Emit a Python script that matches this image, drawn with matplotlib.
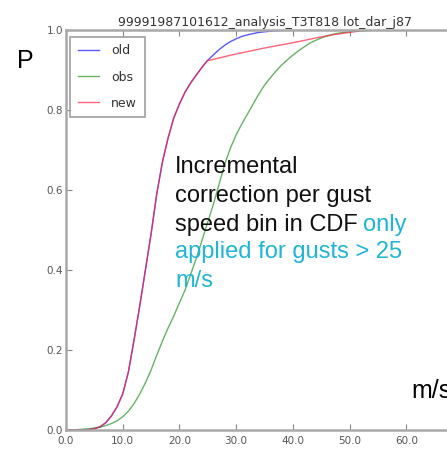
import matplotlib
matplotlib.use("Agg")
import matplotlib.pyplot as plt

old_speed = [0, 4, 5, 6, 7, 8, 9, 10, 11, 12, 13, 14, 15, 16, 17, 18, 19, 20,
             21, 22, 23, 24, 24.9, 26, 27, 28, 29, 30, 31, 32, 34, 36, 38, 40]
old_p = [0, 0.001, 0.003, 0.008, 0.018, 0.035, 0.058, 0.09, 0.145, 0.225, 0.31,
         0.40, 0.49, 0.59, 0.67, 0.73, 0.78, 0.815, 0.845, 0.868, 0.888, 0.907,
         0.923, 0.938, 0.951, 0.962, 0.971, 0.978, 0.984, 0.988, 0.994, 0.997,
         0.999, 1.0]

obs_speed = [0, 2, 4, 5, 6, 7, 8, 9, 10, 11, 12, 13, 14, 15, 16, 17, 18, 19, 20,
             21, 22, 23, 24, 25, 26, 27, 28, 29, 30, 31, 32, 33, 34, 35, 36, 37,
             38, 39, 40, 41, 42, 43, 44, 45, 46, 47, 48, 50, 52, 55, 59]
obs_p = [0, 0.001, 0.003, 0.005, 0.007, 0.011, 0.016, 0.023, 0.033, 0.047, 0.066,
         0.09, 0.118, 0.15, 0.187, 0.222, 0.255, 0.285, 0.318, 0.35, 0.39, 0.43,
         0.475, 0.52, 0.565, 0.615, 0.665, 0.705, 0.738, 0.765, 0.79, 0.815, 0.84,
         0.862, 0.88, 0.897, 0.912, 0.925, 0.937, 0.948, 0.958, 0.967, 0.974, 0.98,
         0.985, 0.989, 0.992, 0.996, 0.998, 0.9995, 1.0]

# "new" follows "old" up to 25 m/s, then the corrected part
new_speed = old_speed[:23] + [27, 29, 32, 35, 38, 41, 44, 47, 50, 52, 54]
new_p = old_p[:23] + [0.93, 0.937, 0.946, 0.955, 0.963, 0.971, 0.98, 0.988,
                      0.994, 0.998, 1.0]

title = "99991987101612_analysis_T3T818 lot_dar_j87"
xticks = [0, 10, 20, 30, 40, 50, 60]
yticks = [0.0, 0.2, 0.4, 0.6, 0.8, 1.0]

W, H = 447, 449
fig = plt.figure(figsize=(W / 100, H / 100), dpi=100)
# axes runs off the right side of the picture, like the cropped original
ax = fig.add_axes([66 / W, 19 / H, 397 / W, 400 / H])

ax.plot(old_speed, old_p, color="b", alpha=0.65, lw=1.0, label="old")
ax.plot(obs_speed, obs_p, color="g", alpha=0.6, lw=1.0, label="obs")
ax.plot(new_speed, new_p, color="#ff2040", alpha=0.7, lw=1.0, label="new")

ax.set_xlim(0, 70)
ax.set_ylim(0, 1)
ax.set_xticks(xticks)
ax.set_yticks(yticks)
ax.set_xticklabels(["%.1f" % t for t in xticks])
ax.set_yticklabels(["%.1f" % t for t in yticks])
ax.tick_params(direction="in", top=True, right=True, labelsize=7.5,
               labelcolor="#555555", color="#888888", length=4, pad=2)
ax.tick_params(axis="x", pad=4)
for s in ax.spines.values():
    s.set_color("#a8a8a8")
    s.set_linewidth(1.8)

ax.set_title(title, fontsize=9, color="#333333", pad=3)

leg = ax.legend(loc="upper left", bbox_to_anchor=(4 / 397, 1 - 7 / 400),
                borderaxespad=0, fontsize=9, labelspacing=1.05, handlelength=1.7,
                handletextpad=1.0, borderpad=0.6, fancybox=False)
leg.get_frame().set_edgecolor("#888888")
leg.get_frame().set_linewidth(1.2)
for t in leg.get_texts():
    t.set_color("#333333")

fig.text(17 / W, 1 - 68 / H, "P", fontsize=18, family="Liberation Sans", va="baseline")
fig.text(411 / W, 1 - 398 / H, "m/s", fontsize=18, family="Liberation Sans", va="baseline")

cyan = "#1fb5d6"
tx = 175 / W
lines = [("Incremental", 173), ("correction per gust", 202)]
for s, yb in lines:
    fig.text(tx, 1 - yb / H, s, fontsize=17, family="Liberation Sans", color="#111111",
             va="baseline")
t3 = fig.text(tx, 1 - 231 / H, "speed bin in CDF", fontsize=17, family="Liberation Sans",
              color="#111111", va="baseline")
ax.annotate("only", xy=(1, 0), xycoords=t3, xytext=(5, 0), textcoords="offset pixels",
            fontsize=17, family="Liberation Sans", color=cyan, va="bottom",
            annotation_clip=False)
fig.text(tx, 1 - 258 / H, "applied for gusts > 25", fontsize=17, family="Liberation Sans",
         color=cyan, va="baseline")
fig.text(tx, 1 - 287 / H, "m/s", fontsize=17, family="Liberation Sans", color=cyan,
         va="baseline")

fig.savefig("out.png", dpi=100)
